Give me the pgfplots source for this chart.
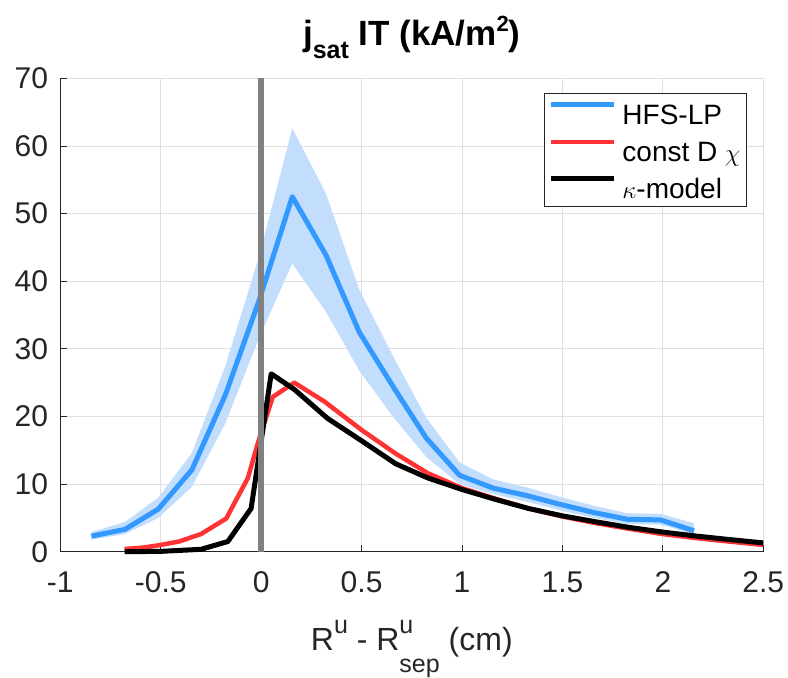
\documentclass[border=0pt]{standalone}
\usepackage{pgfplots}
\pgfplotsset{compat=1.18}
\usepackage{fontspec}
\setmainfont{Liberation Sans}
\definecolor{hfsblue}{RGB}{51,153,255}
\definecolor{bandblue}{RGB}{194,222,252}
\definecolor{modred}{RGB}{255,51,51}
\definecolor{axisgray}{RGB}{38,38,38}
\definecolor{gridgray}{RGB}{223,223,223}
\definecolor{sepgray}{RGB}{128,128,128}
\newcommand{\supu}{\raisebox{17bp}{\fontsize{25bp}{25bp}\selectfont u}}
\begin{document}
\begin{tikzpicture}
\useasboundingbox (-60.3bp,-126.3bp) rectangle (727.7bp,551.7bp);
\begin{axis}[
  scale only axis, width=703bp, height=473.4bp,
  xmin=-1, xmax=2.5, ymin=0, ymax=70,
  clip=false,
  xtick={-1,-0.5,0,0.5,1,1.5,2,2.5},
  xticklabels={-1,-0.5,0,0.5,1,1.5,2,2.5},
  ytick={0,10,20,30,40,50,60,70},
  yticklabels={0,10,20,30,40,50,60,70},
  grid=major,
  grid style={color=gridgray, line width=0.8bp},
  axis x line=bottom, axis y line=left,
  axis line style={-, color=axisgray, line width=0.8bp},
  tick align=inside, major tick length=7bp,
  tick style={color=axisgray, line width=0.8bp},
  xticklabel style={font=\fontsize{30bp}{35bp}\selectfont, text=axisgray, anchor=north, inner sep=0pt, yshift=-20bp},
  yticklabel style={font=\fontsize{30bp}{35bp}\selectfont, text=axisgray, anchor=east, inner sep=0pt, xshift=-12bp},
  title={\textbf{j\raisebox{-0.37em}{\fontsize{25bp}{25bp}\selectfont\bfseries sat} IT (kA/m\raisebox{0.4em}{\fontsize{22bp}{22bp}\selectfont\bfseries 2})}},
  title style={at={(axis description cs:0.5,1)}, anchor=base, yshift=26.5bp, inner sep=0pt, font=\fontsize{35bp}{40bp}\selectfont},
  xlabel={R\supu{} - R\rlap{\supu}\raisebox{-22bp}{\fontsize{25bp}{25bp}\selectfont sep} (cm)},
  xlabel style={at={(axis description cs:0.5,0)}, anchor=base, yshift=-98.3bp, inner sep=0pt, text=axisgray, font=\fontsize{32bp}{37bp}\selectfont},
  legend cell align=left,
  legend image code/.code={\draw[#1] (0bp,8bp) -- (63bp,8bp);},
  legend style={at={(axis description cs:0.9772,0.969)}, anchor=north east,
    draw=axisgray, line width=0.8bp, fill=white,
    font=\fontsize{28bp}{33bp}\selectfont,
    inner xsep=4.5bp, inner ysep=4.5bp, row sep=7bp, column sep=4bp,
    nodes={inner sep=2bp, text height=25bp, text depth=1bp}},
]
% uncertainty band
\addplot[fill=bandblue, draw=none, forget plot] coordinates {
(-0.845,2.9) (-0.678,4.4) (-0.512,8.0) (-0.345,14.6) (-0.178,27.5) (-0.012,43.5) (0.155,62.6) (0.322,53.0) (0.488,38.8) (0.655,29.0) (0.822,19.8) (0.988,13.2) (1.155,10.7) (1.322,9.5) (1.488,8.1) (1.655,6.8) (1.822,5.7) (1.988,5.6) (2.155,4.2)
(2.155,2.6) (1.988,4.0) (1.822,4.1) (1.655,5.0) (1.488,6.1) (1.322,7.4) (1.155,8.5) (0.988,10.0) (0.822,14.0) (0.655,20.0) (0.488,26.8) (0.322,35.5) (0.155,42.6) (-0.012,31.5) (-0.178,19.0) (-0.345,9.6) (-0.512,5.0) (-0.678,2.6) (-0.845,1.8)
};
\addplot[hfsblue, line width=5bp, line join=round] coordinates {
(-0.845,2.3) (-0.678,3.3) (-0.512,6.3) (-0.345,12.1) (-0.178,23.2) (-0.012,37.0) (0.155,52.5) (0.322,43.9) (0.488,32.5) (0.655,24.5) (0.822,16.8) (0.988,11.3) (1.155,9.4) (1.322,8.3) (1.488,7.0) (1.655,5.8) (1.822,4.8) (1.988,4.7) (2.155,3.1)
};
\addlegendentry{HFS-LP}
\addplot[modred, line width=4.5bp, line join=round] coordinates {
(-0.68,0.4) (-0.59,0.6) (-0.51,0.95) (-0.41,1.5) (-0.3,2.6) (-0.174,4.9) (-0.066,10.9) (-0.017,16.0) (0.058,22.9) (0.165,25.0) (0.315,22.2) (0.5,18.0) (0.67,14.5) (0.83,11.6) (1.0,9.4) (1.17,7.8) (1.33,6.4) (1.5,5.2) (1.67,4.2) (1.83,3.4) (2.0,2.6) (2.17,2.0) (2.33,1.5) (2.5,1.0)
};
\addlegendentry{const D $\chi$}
\addplot[black, line width=5bp, line join=round] coordinates {
(-0.68,0.0) (-0.5,0.05) (-0.3,0.35) (-0.166,1.5) (-0.05,6.4) (0.05,26.3) (0.165,24.0) (0.331,19.7) (0.5,16.4) (0.67,13.0) (0.83,10.9) (1.0,9.2) (1.17,7.7) (1.33,6.4) (1.5,5.3) (1.67,4.4) (1.83,3.6) (2.0,2.9) (2.17,2.3) (2.33,1.8) (2.5,1.3)
};
\addlegendentry{$\kappa$-model}
\addplot[sepgray, line width=5.5bp, forget plot] coordinates {(0,0) (0,70)};
\end{axis}
\end{tikzpicture}
\end{document}
